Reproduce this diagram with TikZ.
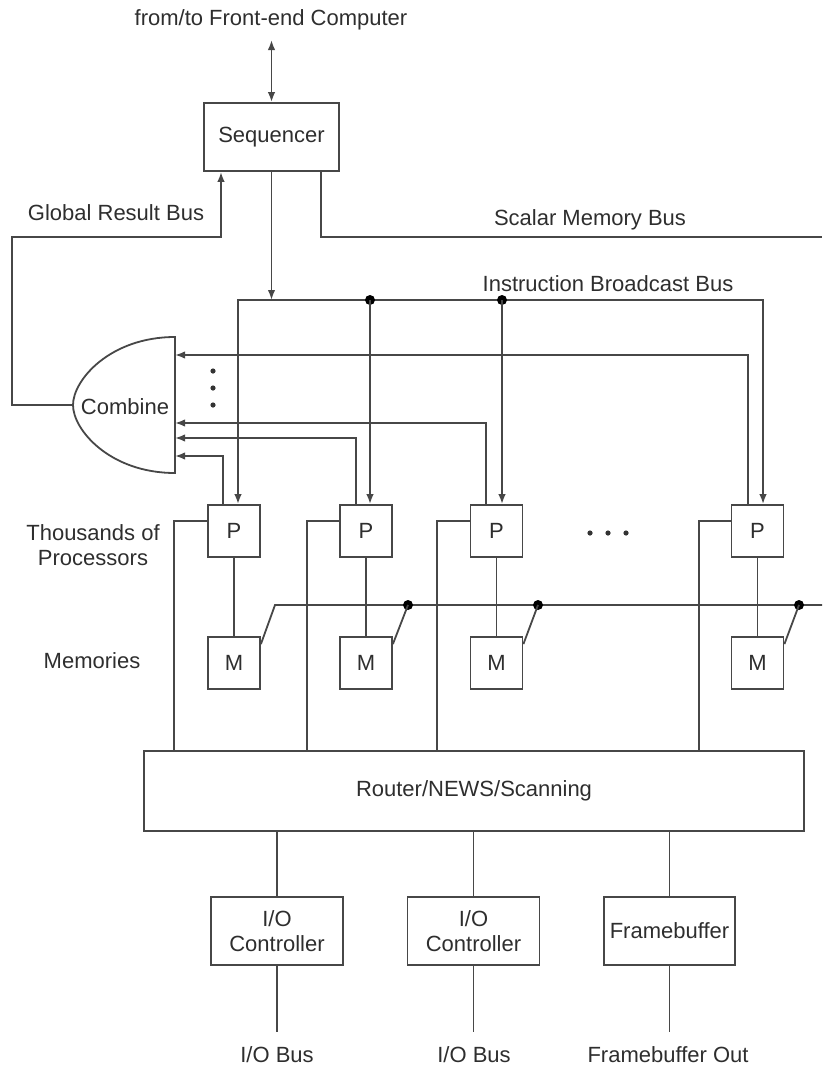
\documentclass[tikz,border=0pt]{standalone}
\usepackage{fontspec}
\setmainfont{Liberation Sans}
\usetikzlibrary{arrows.meta,calc}
\begin{document}
\begin{tikzpicture}[x=1pt,y=-1pt,
  line width=1.8pt, draw=black!72,
  >={Latex[length=10pt,width=7.5pt]},
  every node/.style={text=black!82, font=\fontsize{22}{25}\selectfont},
  blk/.style={draw=black!72, line width=1.8pt, inner sep=0pt, align=center},
  pbox/.style={blk, minimum width=52pt, minimum height=52pt},
  lbl/.style={inner sep=0pt, align=center},
  dotc/.style={fill=black}
]
\useasboundingbox (0,0) rectangle (822,1068);

% labels
\node[lbl] (front) at (271,20) {from/to Front-end Computer};
\node[lbl] (grb) at (116,213) {Global Result Bus};
\node[lbl] (smb) at (590,220) {Scalar Memory Bus};
\node[lbl] (ibb) at (608,284) {Instruction Broadcast Bus};
\node[lbl] (thou) at (93,545) {Thousands of\\Processors};
\node[lbl] (mem) at (92,661) {Memories};
\node[lbl] (iob1) at (277,1055) {I/O Bus};
\node[lbl] (iob2) at (474,1055) {I/O Bus};
\node[lbl] (fbo) at (668,1055) {Framebuffer Out};

% blocks
\node[blk, minimum width=135pt, minimum height=68pt] (seq) at (271.5,137) {Sequencer};
\node[pbox] (P1) at (234,531) {P};
\node[pbox] (P2) at (366,531) {P};
\node[pbox] (P3) at (496.5,531) {P};
\node[pbox] (P4) at (757.5,531) {P};
\node[pbox] (M1) at (234,663) {M};
\node[pbox] (M2) at (366,663) {M};
\node[pbox] (M3) at (496.5,663) {M};
\node[pbox] (M4) at (757.5,663) {M};
\node[blk, minimum width=660pt, minimum height=80pt] (router) at (474,791) {Router/NEWS/Scanning};
\node[blk, minimum width=132pt, minimum height=68pt] (io1) at (277,931) {I/O\\Controller};
\node[blk, minimum width=132pt, minimum height=68pt] (io2) at (473.5,931) {I/O\\Controller};
\node[blk, minimum width=131pt, minimum height=68pt] (fb) at (669.5,931) {Framebuffer};

% combine shape
\coordinate (cTop) at (175,337);
\coordinate (cBot) at (175,473);
\coordinate (cL) at (73,405);
\draw (cTop) .. controls (110,337) and (73,380) .. (cL)
      .. controls (73,430) and (110,473) .. (cBot) -- cycle;
\node[lbl] (comb) at (125,407) {Combine};
\foreach \yy in {371,388,405} \fill[black!80] (213,\yy) circle (2.6);

% front-end arrow
\coordinate (fe) at (271.5,40);
\draw[<->] (fe) -- (seq.north);

% global result bus
\coordinate (g1) at (221,237);
\draw[->] (cL) -- (12,405) |- (g1) -- (g1 |- seq.south);

% scalar memory bus
\coordinate (s1) at (321,237);
\coordinate (s2) at (822,237);
\draw (s1 |- seq.south) -- (s1) -- (s2);

% sequencer to instruction bus
\coordinate (ib0) at (271.5,300);
\draw[->] (seq.south) -- (ib0);

% instruction broadcast bus
\coordinate (ib1) at (238,300);
\coordinate (ib4) at (763,300);
\coordinate (ib2) at (370,300);
\coordinate (ib3) at (502,300);
\draw[<->] (ib1 |- P1.north) -- (ib1) -- (ib4) -- (ib4 |- P4.north);
\fill[dotc] (ib2) circle (5);
\fill[dotc] (ib3) circle (5);
\draw[->] (ib2) -- (ib2 |- P2.north);
\draw[->] (ib3) -- (ib3 |- P3.north);

% processor results to combine
\coordinate (c4) at (748,355);
\coordinate (c3) at (486,423);
\coordinate (c2) at (356,438);
\coordinate (c1) at (223,456);
\draw[->] (c4 |- P4.north) -- (c4) -- (c4 -| cTop);
\draw[->] (c3 |- P3.north) -- (c3) -- (c3 -| cTop);
\draw[->] (c2 |- P2.north) -- (c2) -- (c2 -| cTop);
\draw[->] (c1 |- P1.north) -- (c1) -- (c1 -| cTop);

% processors to router
\coordinate (r1) at (174,521);
\coordinate (r2) at (307,521);
\coordinate (r3) at (437,521);
\coordinate (r4) at (699,521);
\draw (r1 -| P1.west) -- (r1) -- (r1 |- router.north);
\draw (r2 -| P2.west) -- (r2) -- (r2 |- router.north);
\draw (r3 -| P3.west) -- (r3) -- (r3 |- router.north);
\draw (r4 -| P4.west) -- (r4) -- (r4 |- router.north);

% P - M
\draw (P1.south) -- (M1.north);
\draw (P2.south) -- (M2.north);
\draw (P3.south) -- (M3.north);
\draw (P4.south) -- (M4.north);

% memory bus
\coordinate (mb0) at (275,605);
\coordinate (mbe) at (822,605);
\coordinate (mb2) at (408,605);
\coordinate (mb3) at (538,605);
\coordinate (mb4) at (799,605);
\draw ($(M1.north east)+(0,8)$) -- (mb0) -- (mbe);
\fill[dotc] (mb2) circle (5);
\fill[dotc] (mb3) circle (5);
\fill[dotc] (mb4) circle (5);
\draw (mb2) -- ($(M2.north east)+(0,8)$);
\draw (mb3) -- ($(M3.north east)+(0,8)$);
\draw (mb4) -- ($(M4.north east)+(0,8)$);

% horizontal ellipsis
\foreach \xx in {590,608,626} \fill[black!80] (\xx,533) circle (2.6);

% router to I/O
\draw (io1.north) -- (io1.north |- router.south);
\draw (io2.north) -- (io2.north |- router.south);
\draw (fb.north) -- (fb.north |- router.south);

% outputs
\coordinate (o1) at (277,1032);
\coordinate (o2) at (473.5,1032);
\coordinate (o3) at (669.5,1032);
\draw (io1.south) -- (o1);
\draw (io2.south) -- (o2);
\draw (fb.south) -- (o3);
\end{tikzpicture}
\end{document}
